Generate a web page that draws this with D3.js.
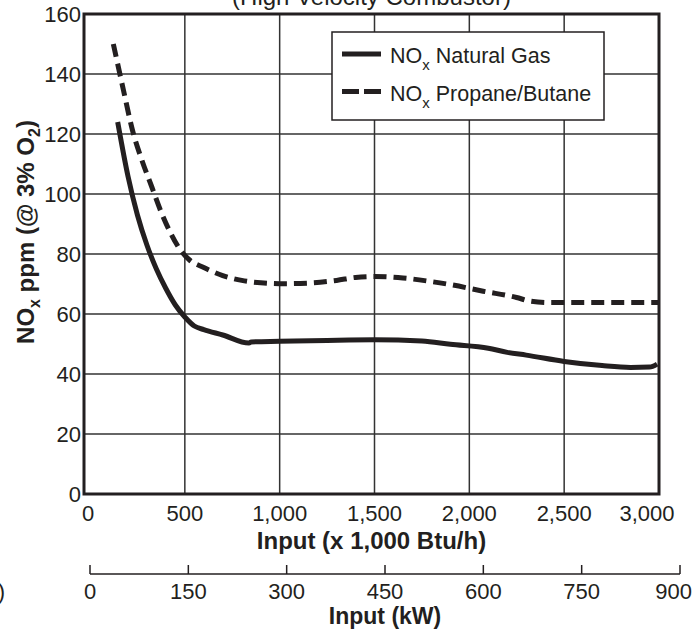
<!DOCTYPE html>
<html lang='en'>
<script src="https://cdn.jsdelivr.net/npm/d3@7"></script>
<style>
body { margin:0; background:#fff; }
svg { display:block; font-family: Arial, "Liberation Sans", Helvetica, sans-serif; }
text { fill:#231f20; }
</style>
<body>
<div id="chart"></div>
<script>

// chart values
var btuTicks = [0, 500, 1000, 1500, 2000, 2500, 3000];
var kwTicks = [0, 150, 300, 450, 600, 750, 900];
var ppmTicks = [0, 20, 40, 60, 80, 100, 120, 140, 160];

var gasX = [146, 200, 250, 300, 350, 400, 450, 500, 550, 600, 700, 838, 850, 1000, 1250, 1500, 1750, 1900, 2100, 2200, 2300, 2500, 2700, 2850, 2950, 2990];
var gasY = [124, 106, 93, 83, 75, 68.5, 63, 59, 56, 54.8, 53, 50.3, 50.7, 50.9, 51.2, 51.4, 51, 49.9, 48.6, 47.2, 46.3, 44.2, 42.8, 42.2, 42.3, 43.3];

var propX = [123, 175, 225, 275, 325, 375, 425, 475, 525, 600, 700, 800, 900, 1000, 1150, 1300, 1400, 1500, 1650, 1800, 1900, 2073, 2249, 2320, 2425, 2700, 3000];
var propY = [150, 135, 121, 111, 102.5, 94, 87, 81.5, 78, 75.5, 72.8, 71.2, 70.4, 70.1, 70.3, 71.2, 72.2, 72.5, 72, 70.8, 69.8, 67.6, 65.5, 64.3, 63.8, 63.8, 63.8];

var dark = "#231f20";

var svg = d3.select("#chart").append("svg")
  .attr("width", 694)
  .attr("height", 630);

var x = d3.scaleLinear().domain([0, 3000]).range([90, 659]);
var y = d3.scaleLinear().domain([0, 160]).range([494, 14]);
var xkw = d3.scaleLinear().domain([0, 900]).range([90, 680]);

var frameLeft = 84;

// title (cut off at the top)
svg.append("text")
  .attr("x", (frameLeft + 659) / 2)
  .attr("y", 5)
  .attr("text-anchor", "middle")
  .attr("font-size", "24px")
  .text("(High Velocity Combustor)");

// grid
svg.selectAll(".vgrid")
  .data(btuTicks.slice(1, -1))
  .enter().append("line")
  .attr("x1", function(d){ return x(d); })
  .attr("x2", function(d){ return x(d); })
  .attr("y1", y(0)).attr("y2", y(160))
  .style("stroke", "#333").style("stroke-width", 1.5);

svg.selectAll(".hgrid")
  .data(ppmTicks.slice(1, -1))
  .enter().append("line")
  .attr("x1", frameLeft).attr("x2", x(3000))
  .attr("y1", function(d){ return y(d); })
  .attr("y2", function(d){ return y(d); })
  .style("stroke", "#333").style("stroke-width", 1.5);

// curves
var line = d3.line()
  .x(function(d){ return x(d[0]); })
  .y(function(d){ return y(d[1]); })
  .curve(d3.curveMonotoneX);

svg.append("path")
  .datum(d3.zip(propX, propY))
  .attr("d", line)
  .style("fill", "none")
  .style("stroke", dark)
  .style("stroke-width", 5)
  .style("stroke-dasharray", "13,7");

svg.append("path")
  .datum(d3.zip(gasX, gasY))
  .attr("d", line)
  .style("fill", "none")
  .style("stroke", dark)
  .style("stroke-width", 5)
  .style("stroke-linejoin", "round");

// frame
svg.append("rect")
  .attr("x", frameLeft).attr("y", y(160))
  .attr("width", x(3000) - frameLeft)
  .attr("height", y(0) - y(160))
  .style("fill", "none")
  .style("stroke", dark)
  .style("stroke-width", 3);

// y tick labels
svg.selectAll(".ylab")
  .data(ppmTicks)
  .enter().append("text")
  .attr("x", 81)
  .attr("y", function(d){ return y(d) + 8; })
  .attr("text-anchor", "end")
  .attr("font-size", "22px")
  .text(function(d){ return d; });

// x tick labels (Btu)
svg.selectAll(".xlab")
  .data(btuTicks)
  .enter().append("text")
  .attr("x", function(d){ return d == 3000 ? x(d) - 12 : x(d) - (d == 0 ? 2 : 0); })
  .attr("y", 521)
  .attr("text-anchor", "middle")
  .attr("font-size", "22px")
  .text(function(d){ return d3.format(",")(d); });

svg.append("text")
  .attr("x", (frameLeft + 659) / 2)
  .attr("y", 549)
  .attr("text-anchor", "middle")
  .attr("font-size", "24px")
  .attr("font-weight", "bold")
  .text("Input (x 1,000 Btu/h)");

// kW axis
var kwAxis = svg.append("g");
kwAxis.append("line")
  .attr("x1", xkw(0)).attr("x2", xkw(900))
  .attr("y1", 574).attr("y2", 574)
  .style("stroke", dark).style("stroke-width", 1.5);
kwAxis.selectAll(".kwtick")
  .data(kwTicks)
  .enter().append("line")
  .attr("x1", function(d){ return xkw(d); })
  .attr("x2", function(d){ return xkw(d); })
  .attr("y1", 574).attr("y2", 565)
  .style("stroke", dark).style("stroke-width", 1.5);
kwAxis.selectAll(".kwlab")
  .data(kwTicks)
  .enter().append("text")
  .attr("x", function(d){ return d == 900 ? xkw(d) + 12 : xkw(d); })
  .attr("y", 599)
  .attr("text-anchor", function(d){ return d == 900 ? "end" : "middle"; })
  .attr("font-size", "22px")
  .text(function(d){ return d; });

svg.append("text")
  .attr("x", (xkw(0) + xkw(900)) / 2)
  .attr("y", 624)
  .attr("text-anchor", "middle")
  .attr("font-size", "23px")
  .attr("font-weight", "bold")
  .text("Input (kW)");

// stray bracket at the left edge
svg.append("text")
  .attr("x", 5).attr("y", 599)
  .attr("text-anchor", "end")
  .attr("font-size", "22px")
  .text("0)");

// y axis label
var ylab = svg.append("text")
  .attr("transform", "translate(34,232) rotate(-90)")
  .attr("text-anchor", "middle")
  .attr("font-size", "24px")
  .attr("font-weight", "bold");
ylab.append("tspan").text("NO");
ylab.append("tspan").attr("font-size", "16px").attr("dy", 6).text("x");
ylab.append("tspan").attr("dy", -6).text(" ppm (@ 3% O");
ylab.append("tspan").attr("font-size", "16px").attr("dy", 6).text("2");
ylab.append("tspan").attr("dy", -6).text(")");

// legend
var legend = svg.append("g");
legend.append("rect")
  .attr("x", 332).attr("y", 32)
  .attr("width", 272).attr("height", 88)
  .style("fill", "#fff")
  .style("stroke", dark)
  .style("stroke-width", 1.5);

var legendItems = [["NO", " Natural Gas", null], ["NO", " Propane/Butane", "17,5"]];
legendItems.forEach(function(item, i){
  var ly = 54 + i * 37.5;
  legend.append("line")
    .attr("x1", 342).attr("x2", 381)
    .attr("y1", ly).attr("y2", ly)
    .style("stroke", dark)
    .style("stroke-width", 5)
    .style("stroke-dasharray", item[2]);
  var t = legend.append("text")
    .attr("x", 390).attr("y", ly + 9)
    .attr("font-size", "21.5px");
  t.append("tspan").text(item[0]);
  t.append("tspan").attr("font-size", "15px").attr("dy", 7).text("x");
  t.append("tspan").attr("dy", -7).text(item[1]);
});

</script>
</body>
</html>
